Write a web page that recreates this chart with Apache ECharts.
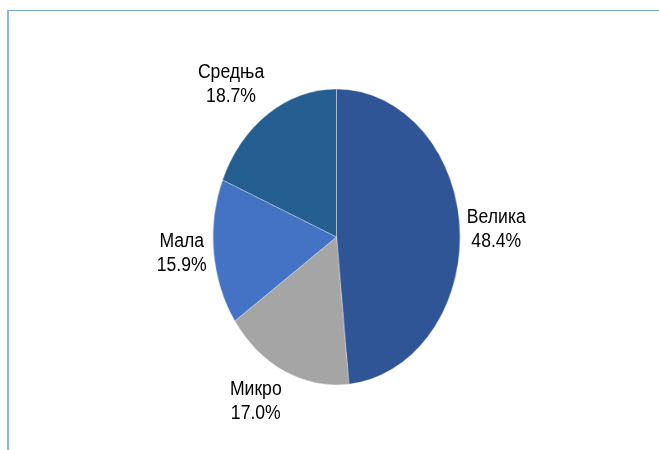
<!DOCTYPE html>
<html>
<head>
<meta charset="utf-8">
<script src="https://cdn.jsdelivr.net/npm/echarts@6/dist/echarts.min.js"></script>
<style>
  html, body { margin: 0; padding: 0; background: #fff; }
  #wrap { position: relative; width: 659px; height: 450px; overflow: hidden; }
  #pie, #over { position: absolute; left: 0; top: 0; width: 659px; height: 450px; }
</style>
</head>
<body>
<div id="wrap">
  <div id="pie"></div>
  <div id="over"></div>
</div>
<script>
// ---- data ----
const categories = ['Велика', 'Микро', 'Мала', 'Средња'];
const values = [48.4, 17.0, 15.9, 18.7];
const colors = ['#2f5597', '#a5a5a5', '#4472c4', '#255e91'];

// ---- layout ----
const CX = 336.5, CY = 237, RX = 123.5, RY = 148;
const FONT = '"Liberation Sans", Arial, sans-serif';
const FS = 20, LH = 24, GAP = 7, NARROW = 0.88;

const pieDiv = document.getElementById('pie');
pieDiv.style.transformOrigin = CX + 'px ' + CY + 'px';
pieDiv.style.transform = 'scaleX(' + (RX / RY) + ')';

const pie = echarts.init(pieDiv, null, { renderer: 'canvas' });
pie.setOption({
  animation: false,
  series: [{
    type: 'pie',
    center: [CX, CY],
    radius: [0, RY],
    startAngle: 90,
    clockwise: true,
    label: { show: false },
    labelLine: { show: false },
    emphasis: { disabled: true },
    itemStyle: { borderColor: 'rgba(255,255,255,0.6)', borderWidth: 0.6 },
    data: categories.map((c, i) => ({ name: c, value: values[i], itemStyle: { color: colors[i] } }))
  }]
});

// ---- labels overlay ----
const ctx = document.createElement('canvas').getContext('2d');
ctx.font = FS + 'px ' + FONT;
function side(s) {
  const a = Math.min(1, Math.max(0, (Math.abs(s) - 0.15) / 0.2));
  return Math.sign(s) * a;
}
const total = values.reduce((a, b) => a + b, 0);
let cum = 0;
const texts = [];
categories.forEach((c, i) => {
  const mid = (cum + values[i] / 2) / total * Math.PI * 2;
  cum += values[i];
  const sx = Math.sin(mid), sy = -Math.cos(mid);
  const px = CX + RX * sx, py = CY + RY * sy;
  const pct = values[i].toFixed(1) + '%';
  const w = Math.max(ctx.measureText(c).width, ctx.measureText(pct).width) * NARROW;
  const hw = w / 2, hh = LH;
  const x = px + sx * GAP + side(sx) * hw;
  const y = py + sy * GAP + side(sy) * hh;
  texts.push({
    type: 'text',
    x: x, y: y,
    scaleX: NARROW, scaleY: 1,
    style: {
      text: c + '\n' + pct,
      fill: '#000',
      font: FS + 'px ' + FONT,
      lineHeight: LH,
      align: 'center',
      verticalAlign: 'middle'
    }
  });
});

const over = echarts.init(document.getElementById('over'), null, { renderer: 'canvas' });
over.setOption({
  animation: false,
  graphic: [
    { type: 'line', shape: { x1: 7, y1: 10.5, x2: 659, y2: 10.5 }, style: { stroke: '#6fa8dc', lineWidth: 1 } },
    { type: 'line', shape: { x1: 8, y1: 10, x2: 8, y2: 450 }, style: { stroke: '#8db8e6', lineWidth: 2 } }
  ].concat(texts)
});
</script>
</body>
</html>
